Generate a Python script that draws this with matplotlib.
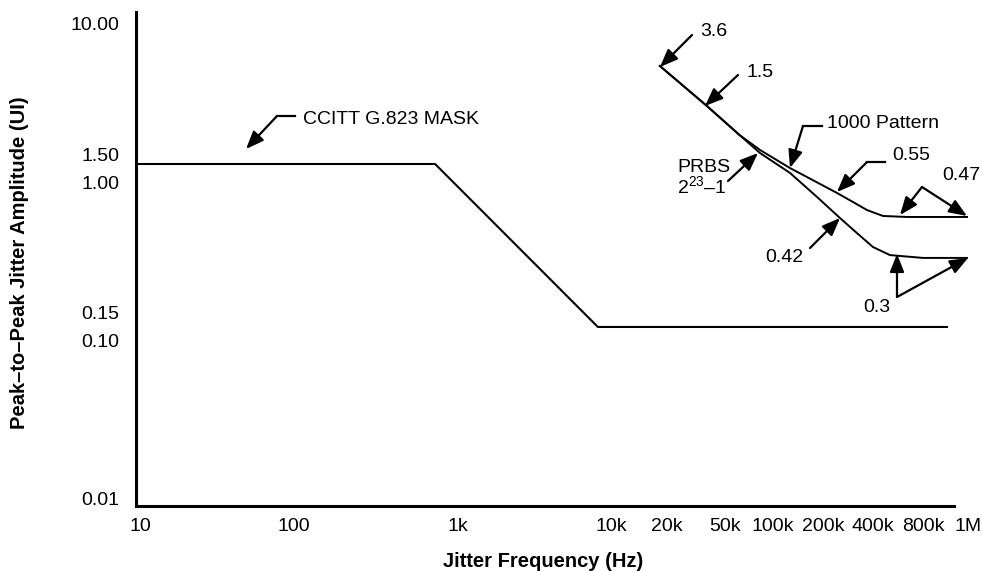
import numpy as np
import matplotlib
matplotlib.use("Agg")
import matplotlib.pyplot as plt
from matplotlib.patches import FancyArrowPatch
from matplotlib.lines import Line2D
from matplotlib.ticker import NullLocator

# ---- data ----
# CCITT G.823 tolerance mask
mask_freq = [9.4, 724, 8200, 901000]
mask_amp = [1.305, 1.305, 0.122, 0.122]

# measured tolerance, "1000" pattern
pattern_freq = [18.3e3, 37.6e3, 61.6e3, 82.9e3, 126.6e3, 243e3, 303e3, 368e3, 459e3, 641e3, 1.0e6]
pattern_amp = [5.43, 3.03, 1.99, 1.60, 1.23, 0.856, 0.751, 0.668, 0.613, 0.604, 0.604]

# measured tolerance, PRBS 2^23-1
prbs_freq = [18.3e3, 37.6e3, 61.6e3, 82.9e3, 126.6e3, 184e3, 253e3, 320e3, 400e3, 506e3, 800e3, 1.0e6]
prbs_amp = [5.43, 3.03, 1.99, 1.53, 1.145, 0.808, 0.595, 0.478, 0.390, 0.347, 0.333, 0.333]

x_ticks = [10, 100, 1e3, 1e4, 2e4, 5e4, 1e5, 2e5, 4e5, 8e5, 1e6]
x_labels = ["10", "100", "1k", "10k", "20k", "50k", "100k", "200k", "400k", "800k", "1M"]
y_ticks = [0.01, 0.10, 0.15, 1.00, 1.50, 10.00]
y_labels = ["0.01", "0.10", "0.15", "1.00", "1.50", "10.00"]

# the frequency axis of the original is hand-drawn: spacing is not a true log
# scale above 10k, so map frequency through the label positions
anchor_freq = [1, 10, 100, 1e3, 1e4, 2e4, 5e4, 1e5, 2e5, 4e5, 8e5, 1e6, 1e7]
anchor_pos = [-14, 140, 294, 458, 611, 667, 725, 773, 823, 873, 923, 968, 1418]
log_anchor = np.log10(anchor_freq)


def fwd(f):
    f = np.clip(np.asarray(f, dtype=float), 1e-6, None)
    return np.interp(np.log10(f), log_anchor, anchor_pos)


def inv(p):
    return 10 ** np.interp(np.asarray(p, dtype=float), anchor_pos, log_anchor)


plt.rcParams["font.family"] = ["Liberation Sans", "DejaVu Sans"]
plt.rcParams["mathtext.fontset"] = "custom"
plt.rcParams["mathtext.rm"] = "Liberation Sans"

W, H = 982, 571
fig = plt.figure(figsize=(W / 100, H / 100), dpi=100)
ax = fig.add_axes([136 / W, 1 - 506 / H, (968 - 136) / W, (506 - 12) / H])

ax.set_xscale("function", functions=(fwd, inv))
ax.set_yscale("log")
ax.set_xlim(9.4, 1e6)
ax.set_ylim(0.00903, 11.9)

ax.plot(mask_freq, mask_amp, color="black", lw=1.5)
ax.plot(pattern_freq, pattern_amp, color="black", lw=1.4)
ax.plot(prbs_freq, prbs_amp, color="black", lw=1.4)

ax.set_xticks(x_ticks)
ax.set_xticklabels(x_labels)
ax.set_yticks(y_ticks)
ax.set_yticklabels(y_labels)
ax.xaxis.set_minor_locator(NullLocator())
ax.yaxis.set_minor_locator(NullLocator())
ax.tick_params(axis="x", length=0, pad=8.5, labelsize=14)
ax.tick_params(axis="y", length=0, pad=12, labelsize=14)

for side in ("top", "right"):
    ax.spines[side].set_visible(False)
for side in ("left", "bottom"):
    ax.spines[side].set_linewidth(2.2)
ax.spines["bottom"].set_bounds(9.4, 933e3)

ax.set_xlabel("Jitter Frequency (Hz)", fontsize=14.5, fontweight="bold", va="center")
ax.xaxis.set_label_coords(0.489, -0.113)
ax.set_ylabel("Peak\u2013to\u2013Peak Jitter Amplitude (UI)", fontsize=14.5,
              fontweight="bold", va="center")
ax.yaxis.set_label_coords(-0.1406, 0.492)


# ---- callouts, laid out in figure pixels (y from top) ----
def fp(x, y):
    return (x / W, 1 - y / H)


def arrow(start, tip):
    fig.add_artist(FancyArrowPatch(
        fp(*start), fp(*tip), transform=fig.transFigure,
        arrowstyle="-|>,head_length=0.6,head_width=0.24", mutation_scale=18,
        lw=1.6, color="black", shrinkA=0, shrinkB=0))


def leader(*pts):
    xs, ys = zip(*[fp(*p) for p in pts])
    fig.add_artist(Line2D(xs, ys, transform=fig.transFigure, color="black", lw=1.6))


def label(x, y, s):
    fig.text(x / W, 1 - y / H, s, ha="left", va="center", fontsize=14)


leader((295, 116), (277, 116))
arrow((277, 116), (246, 149))
label(303, 120, "CCITT G.823 MASK")

arrow((692, 35), (660, 67))
label(700, 32, "3.6")

arrow((738, 75), (705, 106))
label(747, 72, "1.5")

leader((822, 126), (803, 126))
arrow((803, 126), (790, 168))
label(827, 124, "1000 Pattern")

leader((885, 162), (867, 162))
arrow((867, 162), (837, 192))
label(892, 156, "0.55")

arrow((922, 187), (900, 215))
arrow((922, 187), (967, 216))
label(942, 176, "0.47")

arrow((728, 181), (758, 153))
label(677, 167, "PRBS")
label(677, 186, "$\\mathregular{2^{23}}$\u20131")

arrow((810, 248), (840, 218))
label(765, 258, "0.42")

arrow((897, 297), (897, 254))
arrow((897, 297), (968, 258))
label(863, 307, "0.3")

fig.savefig("out.png", dpi=100)
